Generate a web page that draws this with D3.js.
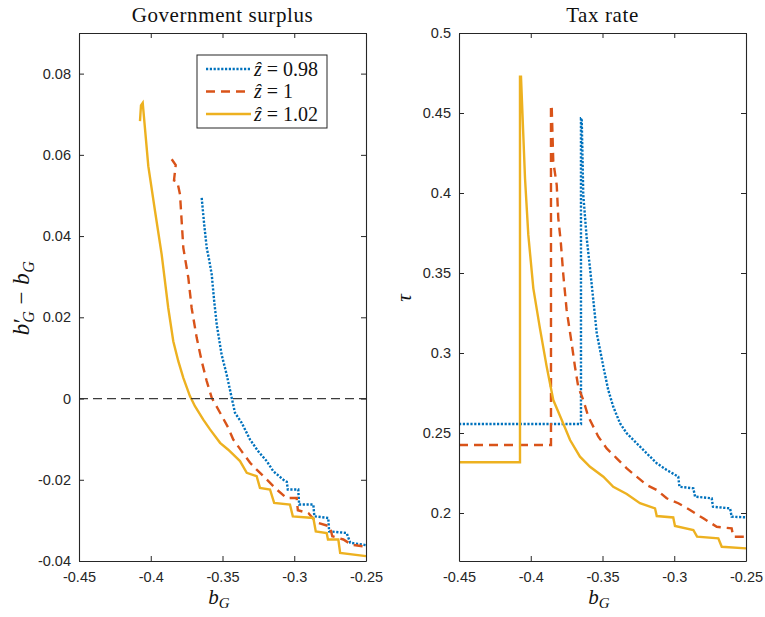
<!DOCTYPE html>
<html>
<head>
<meta charset="utf-8">
<script src="https://cdn.jsdelivr.net/npm/d3@7"></script>
<style>
  body { margin: 0; background: #fff; }
  svg { display: block; }
</style>
</head>
<body>
<svg id="fig" width="765" height="617"></svg>
<script>
// tick values
const bTicks = [-0.45, -0.4, -0.35, -0.3, -0.25];
const surplusTicks = [-0.04, -0.02, 0, 0.02, 0.04, 0.06, 0.08];
const taxTicks = [0.2, 0.25, 0.3, 0.35, 0.4, 0.45, 0.5];
const zLabels = ["0.98", "1", "1.02"];

// Government surplus: [b_G, b'_G - b_G]
const surplus098 = [[-0.3645,0.0494],[-0.3628,0.0430],[-0.3610,0.0371],[-0.3595,0.0345],[-0.3575,0.0305],[-0.3558,0.0240],[-0.3540,0.0182],[-0.3506,0.0108],[-0.3471,0.0059],[-0.3436,0.0002],[-0.3413,-0.0035],[-0.3366,-0.0060],[-0.3308,-0.0101],[-0.3251,-0.0130],[-0.3192,-0.0154],[-0.3146,-0.0179],[-0.3076,-0.0200],[-0.3052,-0.0205],[-0.3045,-0.0224],[-0.2972,-0.0224],[-0.2966,-0.0261],[-0.2867,-0.0261],[-0.2860,-0.0290],[-0.2763,-0.0294],[-0.2757,-0.0327],[-0.2635,-0.0331],[-0.2610,-0.0355],[-0.25,-0.0361]];
const surplus100 = [[-0.3854,0.0589],[-0.3826,0.0575],[-0.3838,0.0537],[-0.3815,0.0534],[-0.3796,0.0502],[-0.3773,0.0371],[-0.3738,0.0297],[-0.3715,0.0223],[-0.3680,0.0150],[-0.3645,0.0092],[-0.3610,0.0043],[-0.3575,0.0002],[-0.3517,-0.0035],[-0.3460,-0.0072],[-0.3425,-0.0101],[-0.3366,-0.0130],[-0.3308,-0.0158],[-0.3262,-0.0175],[-0.3204,-0.0195],[-0.3122,-0.0224],[-0.3053,-0.0245],[-0.2983,-0.0245],[-0.2975,-0.0275],[-0.2902,-0.0282],[-0.2844,-0.0305],[-0.2751,-0.0315],[-0.2735,-0.0339],[-0.2658,-0.0347],[-0.2600,-0.0360],[-0.25,-0.0365]];
const surplus102 = [[-0.4075,0.0683],[-0.4068,0.0722],[-0.4056,0.0728],[-0.4017,0.0572],[-0.3970,0.0461],[-0.3924,0.0355],[-0.3878,0.0223],[-0.3843,0.0141],[-0.3808,0.0092],[-0.3773,0.0051],[-0.3727,0.0006],[-0.3692,-0.0019],[-0.3634,-0.0052],[-0.3587,-0.0076],[-0.3517,-0.0109],[-0.3460,-0.0126],[-0.3378,-0.0154],[-0.3331,-0.0183],[-0.3262,-0.0191],[-0.3239,-0.0220],[-0.3169,-0.0224],[-0.3140,-0.0257],[-0.3030,-0.0261],[-0.3010,-0.0290],[-0.2867,-0.0294],[-0.2850,-0.0327],[-0.2774,-0.0331],[-0.2765,-0.0347],[-0.2693,-0.0347],[-0.2680,-0.0380],[-0.25,-0.0388]];

// Tax rate: [b_G, tau]
const tax098 = [[-0.45,0.2556],[-0.3650,0.2556],[-0.3650,0.4467],[-0.3645,0.4467],[-0.3634,0.3988],[-0.3610,0.3717],[-0.3587,0.3529],[-0.3564,0.3331],[-0.3540,0.3123],[-0.3517,0.3019],[-0.3494,0.2914],[-0.3460,0.2769],[-0.3425,0.2664],[-0.3378,0.2561],[-0.3331,0.2498],[-0.3262,0.2436],[-0.3192,0.2373],[-0.3122,0.2311],[-0.3053,0.2269],[-0.2972,0.2227],[-0.2964,0.2164],[-0.2867,0.2154],[-0.2855,0.2102],[-0.2739,0.2092],[-0.2730,0.2039],[-0.2611,0.2029],[-0.2600,0.1977],[-0.25,0.1973]];
const tax100 = [[-0.45,0.2425],[-0.3859,0.2425],[-0.3859,0.4550],[-0.3854,0.4539],[-0.3843,0.4196],[-0.3819,0.4050],[-0.3808,0.3842],[-0.3791,0.3696],[-0.3773,0.3488],[-0.3750,0.3269],[-0.3715,0.3061],[-0.3692,0.2915],[-0.3669,0.2789],[-0.3634,0.2706],[-0.3599,0.2602],[-0.3529,0.2477],[-0.3471,0.2404],[-0.3401,0.2342],[-0.3331,0.2279],[-0.3262,0.2227],[-0.3192,0.2175],[-0.3122,0.2144],[-0.3053,0.2092],[-0.2972,0.2061],[-0.2890,0.2019],[-0.2798,0.1967],[-0.2704,0.1914],[-0.2600,0.1904],[-0.2589,0.1852],[-0.25,0.1852]];
const tax102 = [[-0.45,0.2317],[-0.4075,0.2317],[-0.4075,0.4727],[-0.4068,0.4727],[-0.4040,0.4092],[-0.4017,0.3738],[-0.3982,0.3404],[-0.3936,0.3154],[-0.3889,0.2915],[-0.3843,0.2706],[-0.3784,0.2581],[-0.3726,0.2456],[-0.3657,0.2352],[-0.3587,0.2289],[-0.3494,0.2227],[-0.3425,0.2164],[-0.3331,0.2119],[-0.3239,0.2061],[-0.3134,0.2029],[-0.3122,0.1981],[-0.3007,0.1972],[-0.2995,0.1919],[-0.2867,0.1894],[-0.2841,0.1852],[-0.2693,0.1842],[-0.2669,0.1789],[-0.25,0.1779]];

const styles = [
  { color: "#0072BD", dash: "2.2,1.6" },
  { color: "#D95319", dash: "9,6" },
  { color: "#EDB120", dash: null }
];

const axisColor = "#262626";
const serif = "'Liberation Serif', 'DejaVu Serif', serif";
const sans = "'Liberation Sans', Arial, sans-serif";
const fmt = d => String(+d.toFixed(2));

const svg = d3.select("#fig");

const drawPanel = (cfg) => {
  const xScale = d3.scaleLinear().domain([-0.45, -0.25]).range([cfg.left, cfg.left + 287]);
  const yScale = d3.scaleLinear().domain(cfg.yDomain).range([561, 33]);

  const g = svg.append("g");

  const line = d3.line()
    .x(d => xScale(d[0]))
    .y(d => yScale(d[1]));

  cfg.series.forEach((s, i) => {
    g.append("path")
      .datum(s)
      .attr("d", line)
      .attr("fill", "none")
      .attr("stroke", styles[i].color)
      .attr("stroke-width", 2.4)
      .attr("stroke-dasharray", styles[i].dash)
      .attr("stroke-linejoin", "miter");
  });

  if (cfg.zeroLine) {
    g.append("line")
      .attr("x1", xScale(-0.45)).attr("x2", xScale(-0.25))
      .attr("y1", yScale(0)).attr("y2", yScale(0))
      .attr("stroke", "#3c3c3c")
      .attr("stroke-width", 1.2)
      .attr("stroke-dasharray", "9,5");
  }

  const bottomAxis = d3.axisBottom(xScale).tickValues(bTicks).tickFormat(fmt)
    .tickSizeInner(-5).tickSizeOuter(0).tickPadding(11);
  const topAxis = d3.axisTop(xScale).tickValues(bTicks).tickFormat("")
    .tickSizeInner(-5).tickSizeOuter(0);
  const leftAxis = d3.axisLeft(yScale).tickValues(cfg.yTicks).tickFormat(fmt)
    .tickSizeInner(-5).tickSizeOuter(0).tickPadding(8);
  const rightAxis = d3.axisRight(yScale).tickValues(cfg.yTicks).tickFormat("")
    .tickSizeInner(-5).tickSizeOuter(0);

  const axes = [
    g.append("g").attr("transform", "translate(0,561)").call(bottomAxis),
    g.append("g").attr("transform", "translate(0,33)").call(topAxis),
    g.append("g").attr("transform", `translate(${cfg.left},0)`).call(leftAxis),
    g.append("g").attr("transform", `translate(${cfg.left + 287},0)`).call(rightAxis)
  ];
  axes.forEach(a => {
    a.select(".domain").attr("stroke", axisColor).attr("stroke-width", 1.1);
    a.selectAll(".tick line").attr("stroke", axisColor).attr("stroke-width", 1);
    a.selectAll("text").attr("fill", axisColor).style("font-family", sans).style("font-size", "14.5px");
  });

  // title
  g.append("text")
    .attr("x", cfg.left + 143.5).attr("y", 22)
    .attr("text-anchor", "middle")
    .style("font-family", serif).style("font-size", "21px")
    .style("letter-spacing", "0.6px")
    .attr("fill", "#111")
    .text(cfg.title);

  // x label b_G
  const xl = g.append("text")
    .attr("x", cfg.left + 140).attr("y", 604)
    .attr("text-anchor", "middle")
    .style("font-family", serif).style("font-size", "21px")
    .attr("fill", "#111");
  xl.append("tspan").style("font-style", "italic").text("b");
  xl.append("tspan").style("font-style", "italic").style("font-size", "15px").attr("dy", 4).text("G");

  return { xScale, yScale, g };
};

const left = drawPanel({
  left: 79, yDomain: [-0.04, 0.09], yTicks: surplusTicks,
  series: [surplus098, surplus100, surplus102], zeroLine: true,
  title: "Government surplus"
});

const right = drawPanel({
  left: 459, yDomain: [0.17, 0.5], yTicks: taxTicks,
  series: [tax098, tax100, tax102], zeroLine: false,
  title: "Tax rate"
});

// y labels
const yl = svg.append("text")
  .attr("transform", "translate(29,298) rotate(-90)")
  .attr("text-anchor", "middle")
  .style("font-family", serif).style("font-size", "23px")
  .style("letter-spacing", "0.5px")
  .attr("fill", "#111");
yl.append("tspan").style("font-style", "italic").text("b");
yl.append("tspan").text("\u2032");
yl.append("tspan").style("font-style", "italic").style("font-size", "16px").attr("dx", -5).attr("dy", 5).text("G");
yl.append("tspan").attr("dy", -5).text(" \u2212 ");
yl.append("tspan").style("font-style", "italic").text("b");
yl.append("tspan").style("font-style", "italic").style("font-size", "16px").attr("dy", 5).text("G");

svg.append("text")
  .attr("transform", "translate(411,298) rotate(-90)")
  .attr("text-anchor", "middle")
  .style("font-family", serif).style("font-size", "21px").style("font-style", "italic")
  .attr("fill", "#111")
  .text("\u03C4");

// legend
const legend = svg.append("g").attr("transform", "translate(197,55)");
legend.append("rect")
  .attr("width", 130).attr("height", 73)
  .attr("fill", "#fff")
  .attr("stroke", axisColor).attr("stroke-width", 1);

zLabels.forEach((lab, i) => {
  const y = 14 + i * 22.5;
  legend.append("line")
    .attr("x1", 9).attr("x2", 54).attr("y1", y).attr("y2", y)
    .attr("stroke", styles[i].color)
    .attr("stroke-width", 2.4)
    .attr("stroke-dasharray", styles[i].dash);
  const t = legend.append("text")
    .attr("x", 57).attr("y", y + 6.5)
    .style("font-family", serif).style("font-size", "20px")
    .attr("fill", "#111");
  t.append("tspan").style("font-style", "italic").text("\u1E91");
  t.append("tspan").text(" = " + lab);
});
</script>
</body>
</html>
